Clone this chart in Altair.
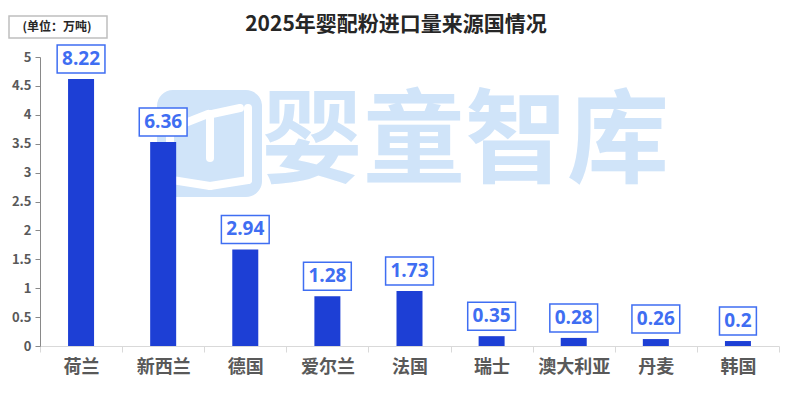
import altair as alt
import pandas as pd

# ---- data ----
countries = ["荷兰", "新西兰", "德国", "爱尔兰", "法国", "瑞士", "澳大利亚", "丹麦", "韩国"]
bar_values = [4.62, 3.53, 1.67, 0.86, 0.95, 0.17, 0.14, 0.12, 0.086]
labels = ["8.22", "6.36", "2.94", "1.28", "1.73", "0.35", "0.28", "0.26", "0.2"]
y_ticks = [0, 0.5, 1, 1.5, 2, 2.5, 3, 3.5, 4, 4.5, 5]
title_text = "2025年婴配粉进口量来源国情况"
unit_text = "(单位：万吨)"
watermark_text = "婴童智库"

df = pd.DataFrame({"country": countries, "value": bar_values, "label": labels})

CJK = "Noto Sans CJK SC"
BAR = "#1d3fd5"
LBL = "#3f6ef2"
WM = "#d0e4f9"

x_enc = alt.X(
    "country:N",
    sort=countries,
    scale=alt.Scale(paddingInner=0, paddingOuter=0),
    axis=alt.Axis(
        title=None, labelAngle=0, tickBand="extent", domainColor="#d9d9d9",
        tickColor="#d9d9d9", tickSize=6, labelFontSize=18, labelFontWeight="bold",
        labelColor="#595959", labelPadding=6, labelFont=CJK,
    ),
)
y_enc = alt.Y(
    "value:Q",
    scale=alt.Scale(domain=[0, 5], nice=False, zero=True),
    axis=alt.Axis(
        title=None, values=y_ticks, format="~g", grid=False, domainColor="#898989",
        tickColor="#898989", tickSize=5, labelFontSize=13, labelFontWeight="bold",
        labelColor="#595959", labelPadding=4, labelFont=CJK,
        labelOverlap=False, labelFlush=False,
    ),
)
y2_enc = alt.Y2("value")

one = alt.Data(values=[{}])

# ---- watermark (decoration, behind bars) ----
logo = alt.Chart(one).mark_rect(fill=WM, cornerRadius=16).encode(
    x=alt.value(117), x2=alt.value(222), y=alt.value(33), y2=alt.value(140)
)
book_segments = [
    (130, 68, 130, 123),   # left page edge
    (135, 70, 168, 57),    # left top arc
    (172, 57, 200, 51),    # right top arc
    (170, 57, 170, 101),   # stem
    (208, 51, 208, 123),   # right page edge
    (132, 123, 170, 129),  # bottom left
    (170, 129, 208, 123),  # bottom right
]
book = [
    alt.Chart(one).mark_rule(color="white", strokeWidth=8, strokeCap="round").encode(
        x=alt.value(a), y=alt.value(b), x2=alt.value(c), y2=alt.value(d)
    )
    for a, b, c, d in book_segments
]
wm_text = alt.Chart(one).mark_text(
    text=watermark_text, font=CJK, fontSize=102, fontWeight="bold", color=WM,
    align="center", baseline="middle",
).encode(x=alt.value(425), y=alt.value(87))

# ---- data marks ----
base = alt.Chart(df)
bars = base.mark_bar(size=26, color=BAR).encode(x=x_enc, y=y_enc)
boxes = base.transform_calculate(
    bw="(length(datum.label) - 1) * 10.9 + 15.1"
).mark_bar(
    fill="white", stroke=LBL, strokeWidth=1.5, yOffset=-34, y2Offset=-6
).encode(
    x=x_enc,
    y=y_enc,
    y2=y2_enc,
    size=alt.Size("bw:Q", scale=None),
)
texts = base.mark_text(
    dy=-20, font="Open Sans", fontSize=19, fontWeight="bold", color=LBL,
    baseline="middle", align="center",
).encode(x=x_enc, y=y_enc, text="label:N")

# ---- title & unit box ----
title = alt.Chart(one).mark_text(
    text=title_text, font=CJK, fontSize=21, fontWeight="bold", color="#262626",
    align="center", baseline="middle",
).encode(x=alt.value(356), y=alt.value(-32))
unit_box = alt.Chart(one).mark_rect(fill="white", stroke="#bfbfbf", strokeWidth=1.5).encode(
    x=alt.value(-31), x2=alt.value(67), y=alt.value(-41), y2=alt.value(-19)
)
unit = alt.Chart(one).mark_text(
    text=unit_text, font=CJK, fontSize=12, fontWeight="bold", color="#262626",
    align="center", baseline="middle",
).encode(x=alt.value(17), y=alt.value(-30))

chart = alt.layer(
    logo, *book, wm_text, bars, boxes, texts, title, unit_box, unit
).properties(
    width=739, height=289, autosize="none",
    padding={"left": 32, "top": 49, "right": 7, "bottom": 40},
    background="white",
).configure_view(stroke=None)

chart.save("out.html", embed_options={"renderer": "svg", "actions": False})
